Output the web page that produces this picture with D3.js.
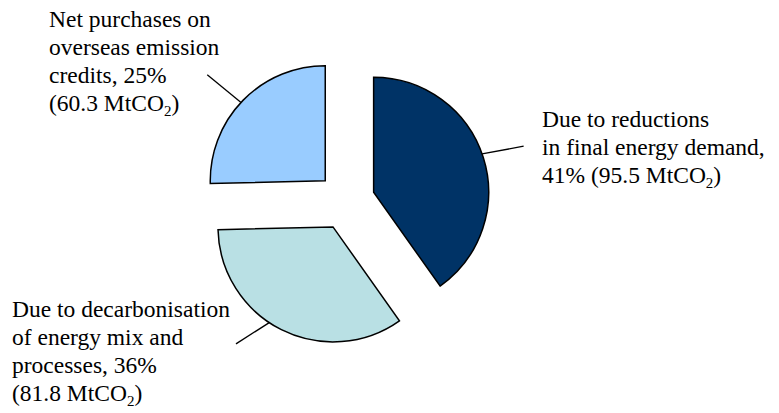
<!DOCTYPE html>
<html><head><meta charset="utf-8">
<script src="https://cdn.jsdelivr.net/npm/d3@7/dist/d3.min.js"></script></head>
<body style="margin:0">
<svg id="s" width="779" height="413"></svg>
<script>
// ---- data ----
const categories = [
  "Due to reductions in final energy demand",
  "Due to decarbonisation of energy mix and processes",
  "Net purchases on overseas emission credits"
];
const values = [95.5, 81.8, 60.3];
const percentLabels = ["41%", "36%", "25%"];
const colors = ["#003366", "#B9E0E4", "#99CCFF"];
const labelLines = [
  ["Due to reductions", "in final energy demand,", "41% (95.5 MtCO|2|)"],
  ["Due to decarbonisation", "of energy mix and", "processes, 36%", "(81.8 MtCO|2|)"],
  ["Net purchases on", "overseas emission", "credits, 25%", "(60.3 MtCO|2|)"]
];

// ---- layout ----
const cx = 346, cy = 201, R = 115, explode = 29;
const labelPos = [ {x: 542, y: 127}, {x: 12, y: 317}, {x: 49, y: 27} ];
const lineHeight = 28;
const fontFamily = "'Liberation Serif', monospace";
const leaderAngle = [-1.8, 7, -1.4];
const leaderEnd = [ {dx: 150, dy: -46}, {dx: -97, dy: 117}, {dx: -118, dy: -106} ];

const svg = d3.select("#s");
const pie = d3.pie().sort(null).value(d => d)(values);
const arc = d3.arc().innerRadius(0).outerRadius(R);

const g = svg.append("g").attr("transform", `translate(${cx},${cy})`);

pie.forEach((p, i) => {
  const mid = (p.startAngle + p.endAngle) / 2;
  const ox = Math.sin(mid) * explode, oy = -Math.cos(mid) * explode;
  const sg = g.append("g").attr("transform", `translate(${ox},${oy})`);
  sg.append("path")
    .attr("d", arc(p))
    .attr("fill", colors[i])
    .attr("stroke", "#000")
    .attr("stroke-width", 1.5);
  const la = mid + leaderAngle[i] * Math.PI / 180;
  sg.append("line")
    .attr("x1", Math.sin(la) * R)
    .attr("y1", -Math.cos(la) * R)
    .attr("x2", leaderEnd[i].dx)
    .attr("y2", leaderEnd[i].dy)
    .attr("stroke", "#000")
    .attr("stroke-width", 1.3);
});

const pieces = [];
labelLines.forEach((lines, i) => {
  lines.forEach((ln, j) => {
    const parts = ln.split("|");
    const y = labelPos[i].y + j * lineHeight;
    pieces.push({x: labelPos[i].x, y, text: parts[0], size: 23.5, line: `${i}-${j}`});
    if (parts.length > 1) {
      pieces.push({x: labelPos[i].x, y: y + 5, text: parts[1], size: 15, line: `${i}-${j}`});
      pieces.push({x: labelPos[i].x, y, text: parts[2], size: 23.5, line: `${i}-${j}`});
    }
  });
});

const texts = svg.selectAll("text").data(pieces).join("text")
  .attr("x", d => d.x).attr("y", d => d.y)
  .attr("font-size", d => d.size + "px")
  .attr("font-family", fontFamily)
  .style("font-family", fontFamily, "important")
  .text(d => d.text);

function layoutPieces() {
  const offs = {};
  texts.each(function(d) {
    const o = offs[d.line] || 0;
    d3.select(this).attr("x", d.x + o);
    offs[d.line] = o + this.getComputedTextLength();
  });
}
layoutPieces();
if (document.fonts && document.fonts.ready) document.fonts.ready.then(layoutPieces);
</script></body></html>
